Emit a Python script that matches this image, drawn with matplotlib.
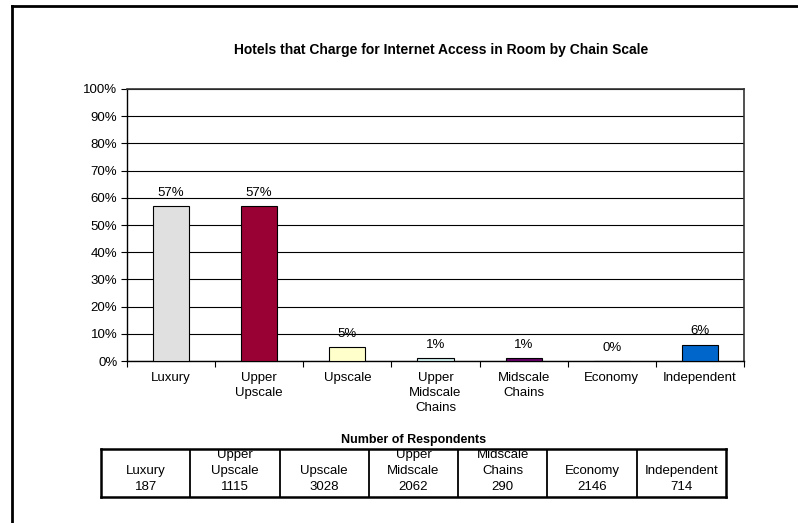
import matplotlib
matplotlib.use("Agg")
import matplotlib.pyplot as plt
from matplotlib.lines import Line2D
import numpy as np

plt.rcParams['font.family'] = ['Liberation Sans', 'DejaVu Sans']

categories = ["Luxury", "Upper\nUpscale", "Upscale", "Upper\nMidscale\nChains",
              "Midscale\nChains", "Economy", "Independent"]
values = [57, 57, 5, 1, 1, 0, 6]
colors = ["#E0E0E0", "#990033", "#FFFFCC", "#CCE8E8", "#660066", "#9999FF", "#0066CC"]
yticks = [0, 10, 20, 30, 40, 50, 60, 70, 80, 90, 100]

table_labels = ["Luxury", "Upper\nUpscale", "Upscale", "Upper\nMidscale",
                "Midscale\nChains", "Economy", "Independent"]
respondents = [187, 1115, 3028, 2062, 290, 2146, 714]

W, H = 798, 523
fig = plt.figure(figsize=(W / 100, H / 100), dpi=100)

# outer frame (top and left edges visible)
fig.add_artist(Line2D([12 / W, 12 / W], [0, 1 - 6 / H], transform=fig.transFigure,
                      color="black", lw=2))
fig.add_artist(Line2D([12 / W, 1], [1 - 6 / H, 1 - 6 / H], transform=fig.transFigure,
                      color="black", lw=2))

ax = fig.add_axes([127 / W, 1 - 361 / H, (744 - 127) / W, (361 - 89) / H])
x = np.arange(len(categories))
ax.bar(x, values, width=0.41, color=colors, edgecolor="black", linewidth=0.8, zorder=3)
for xi, v in zip(x, values):
    ax.annotate(f"{v}%", (xi, v), xytext=(0, 9.5), textcoords="offset points",
                ha="center", va="center", fontsize=9.5, zorder=4)

ax.set_xlim(-0.5, len(categories) - 0.5)
ax.set_ylim(0, 100)
ax.set_yticks(yticks)
ax.set_yticklabels([f"{t}%" for t in yticks], fontsize=9.5)
ax.yaxis.grid(True, color="black", linewidth=0.8, zorder=0)
ax.set_axisbelow(True)
ax.set_xticks(x)
ax.set_xticklabels(categories, fontsize=9.5, linespacing=1.3, va="top")
ax.tick_params(axis="x", which="major", length=0, pad=8)
ax.set_xticks(np.arange(-0.5, len(categories)), minor=True)
ax.tick_params(axis="x", which="minor", length=4, width=0.8, direction="out")
ax.tick_params(axis="y", length=4, width=0.8, direction="out", pad=3)
for s in ["left", "bottom"]:
    ax.spines[s].set_color("black")
    ax.spines[s].set_linewidth(1)
for s in ["top", "right"]:
    ax.spines[s].set_color("#333333")
    ax.spines[s].set_linewidth(1.2)

fig.text(441 / W, 1 - 50 / H, "Hotels that Charge for Internet Access in Room by Chain Scale",
         ha="center", va="center", fontsize=10, fontweight="bold")

# respondents table
tx0, tx1, ty0, ty1 = 101, 726, 449, 497
tab = fig.add_axes([tx0 / W, 1 - ty1 / H, (tx1 - tx0) / W, (ty1 - ty0) / H])
n = len(table_labels)
tab.set_xlim(0, n)
tab.set_ylim(0, 48)
tab.set_xticks([])
tab.set_yticks([])
for s in tab.spines.values():
    s.set_linewidth(1.8)
    s.set_color("black")
for i in range(1, n):
    tab.axvline(i, color="black", lw=1.3)
for i, (lab, cnt) in enumerate(zip(table_labels, respondents)):
    lines = lab.split("\n") + [str(cnt)]
    for j, ln in enumerate(reversed(lines)):
        tab.text(i + 0.5, 10 + j * 16, ln, ha="center", va="center", fontsize=9.5,
                 clip_on=True)
fig.text((tx0 + tx1) / 2 / W, 1 - 440 / H, "Number of Respondents", ha="center",
         va="center", fontsize=9, fontweight="bold")

fig.savefig("out.png", dpi=100)
